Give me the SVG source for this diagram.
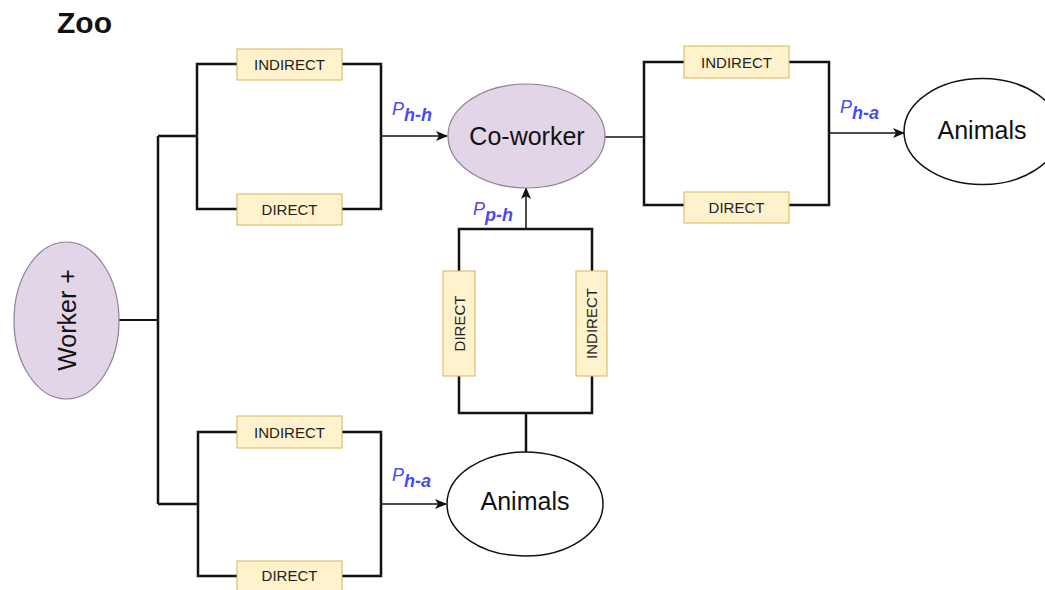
<svg xmlns="http://www.w3.org/2000/svg" width="1045" height="590" viewBox="0 0 1045 590">
<style>
.box{fill:#fff2cc;stroke:#d6b656;stroke-width:1}
.bt{font-family:"Liberation Sans",Arial,sans-serif;font-size:15px;fill:#222;text-anchor:middle;dominant-baseline:central}
.br{fill:none;stroke:#111;stroke-width:2.5}
.ar{fill:none;stroke:#111;stroke-width:1.5}
.pl{font-family:"Liberation Sans",Arial,sans-serif;font-style:italic;fill:#4a4af2;font-size:18px}
.sub{font-weight:bold;font-size:18px}
.nt{font-family:"Liberation Sans",Arial,sans-serif;font-size:25px;fill:#111;text-anchor:middle;dominant-baseline:central}
.pur{fill:#e1d5e7;stroke:#8f7f9a;stroke-width:1.2}
.wh{fill:#fff;stroke:#111;stroke-width:1.5}
</style>
<defs>
<marker id="ah" viewBox="0 0 12 10" refX="11" refY="5" markerWidth="12" markerHeight="10" orient="auto" markerUnits="userSpaceOnUse">
<path d="M0,0 L12,5 L0,10 L3,5 Z" fill="#111"/>
</marker>
</defs>
<rect width="1045" height="590" fill="#fff"/>
<text x="57" y="33" font-family="Liberation Sans,Arial,sans-serif" font-weight="bold" font-size="30" fill="#111">Zoo</text>

<g id="connectors">
<path class="ar" d="M119,320 H158" style="stroke-width:2"/>
<path class="br" d="M158,136 V504"/>
<path class="br" d="M158,136 H197"/>
<path class="br" d="M158,504 H198"/>
<path class="br" d="M237,64 H197 V209 H237"/>
<path class="br" d="M342,64 H381 V209 H342"/>
<path class="ar" d="M381,136 H447" marker-end="url(#ah)"/>
<path class="br" d="M237,432 H198 V576 H237"/>
<path class="br" d="M342,432 H381 V576 H342"/>
<path class="ar" d="M381,504 H446" marker-end="url(#ah)"/>
<path class="ar" d="M605,137 H644"/>
<path class="br" d="M684,62 H644 V205 H684"/>
<path class="br" d="M789,62 H829 V205 H789"/>
<path class="ar" d="M829,133 H904" marker-end="url(#ah)"/>
<path class="br" d="M526,452 V413"/>
<path class="br" d="M459,271 V229 H592 V271"/>
<path class="br" d="M459,376 V413 H592 V376"/>
<path class="ar" d="M526,229 V188" marker-end="url(#ah)"/>
</g>

<g id="worker"><ellipse class="pur" cx="66.5" cy="320.5" rx="52.5" ry="78.5"/><text class="nt" font-size="27" transform="translate(67,320) rotate(-90)">Worker +</text></g>
<g id="coworker"><ellipse class="pur" cx="526.5" cy="136" rx="78.5" ry="52"/><text class="nt" font-size="28" x="527" y="136">Co-worker</text></g>
<g id="animals1"><ellipse class="wh" cx="982" cy="131.5" rx="78" ry="53"/><text class="nt" x="982" y="130">Animals</text></g>
<g id="animals2"><ellipse class="wh" cx="525" cy="504" rx="78" ry="52"/><text class="nt" x="525" y="501">Animals</text></g>

<g id="b1"><rect class="box" x="237" y="49" width="105" height="31"/><text class="bt" x="289.5" y="64.5">INDIRECT</text></g>
<g id="b2"><rect class="box" x="237" y="194" width="105" height="31"/><text class="bt" x="289.5" y="209.5">DIRECT</text></g>
<g id="b3"><rect class="box" x="237" y="416" width="105" height="32"/><text class="bt" x="289.5" y="432">INDIRECT</text></g>
<g id="b4"><rect class="box" x="237" y="561" width="105" height="32"/><text class="bt" x="289.5" y="575">DIRECT</text></g>
<g id="b5"><rect class="box" x="684" y="46" width="105" height="32"/><text class="bt" x="736.5" y="62">INDIRECT</text></g>
<g id="b6"><rect class="box" x="684" y="192" width="105" height="31"/><text class="bt" x="736.5" y="207.5">DIRECT</text></g>
<g id="b7"><rect class="box" x="443" y="271" width="32" height="105"/><text class="bt" transform="translate(459,323.5) rotate(-90)">DIRECT</text></g>
<g id="b8"><rect class="box" x="576" y="271" width="31" height="105"/><text class="bt" transform="translate(591.5,323.5) rotate(-90)">INDIRECT</text></g>

<g id="labels">
<text class="pl" x="392" y="115">P<tspan class="sub" dy="6">h-h</tspan></text>
<text class="pl" x="473" y="215">P<tspan class="sub" dy="6">p-h</tspan></text>
<text class="pl" x="840" y="113">P<tspan class="sub" dy="6">h-a</tspan></text>
<text class="pl" x="392" y="481">P<tspan class="sub" dy="6">h-a</tspan></text>
</g>
</svg>
